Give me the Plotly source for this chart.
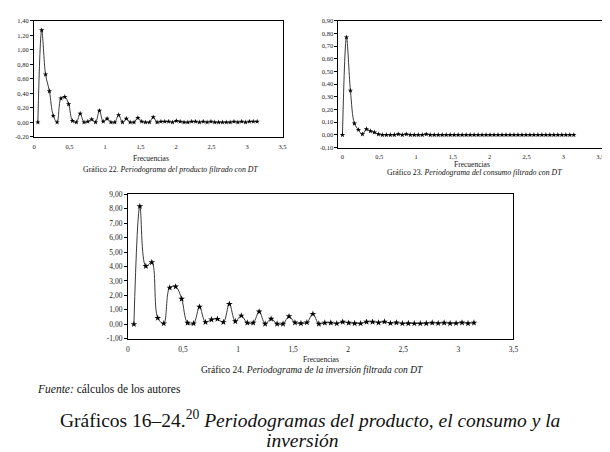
import math
import plotly.graph_objects as go

# ---------------- data ----------------
N = 116
k_prod = list(range(1, 59))
k_cons = list(range(0, 59))
k_inv = list(range(1, 59))

freq_prod = [2 * math.pi * k / N for k in k_prod]
freq_cons = [2 * math.pi * k / N for k in k_cons]
freq_inv = [2 * math.pi * k / N for k in k_inv]

producto = [0.00, 1.27, 0.66, 0.43, 0.09, 0.00, 0.33, 0.35, 0.25, 0.02,
            0.00, 0.12, 0.00, 0.01, 0.04, 0.00, 0.16, 0.01, 0.05, 0.00,
            0.00, 0.10, 0.00, 0.05, 0.00, 0.00, 0.06, 0.01, 0.00, 0.00,
            0.07, 0.00, 0.01, 0.01, 0.01, 0.00, 0.02, 0.01, 0.00, 0.00,
            0.01, 0.01, 0.00, 0.01, 0.00, 0.01, 0.00, 0.00, 0.00, 0.00,
            0.00, 0.01, 0.00, 0.01, 0.00, 0.01, 0.01, 0.01]

consumo = [0.00, 0.77, 0.35, 0.09, 0.04, 0.005, 0.045, 0.03, 0.02, 0.005,
           0.00, 0.00, 0.00, 0.00, 0.005, 0.00, 0.005, 0.00, 0.00, 0.00,
           0.00, 0.005, 0.00, 0.00, 0.00, 0.00, 0.00, 0.00, 0.00, 0.00,
           0.00, 0.00, 0.00, 0.00, 0.00, 0.00, 0.00, 0.00, 0.00, 0.00,
           0.00, 0.00, 0.00, 0.00, 0.00, 0.00, 0.00, 0.00, 0.00, 0.00,
           0.00, 0.00, 0.00, 0.00, 0.00, 0.00, 0.00, 0.00, 0.00]

inversion = [0.00, 8.17, 4.02, 4.29, 0.43, 0.05, 2.53, 2.60, 1.76, 0.09,
             0.05, 1.20, 0.14, 0.32, 0.36, 0.14, 1.40, 0.20, 0.59, 0.10,
             0.10, 0.87, 0.03, 0.37, 0.03, 0.03, 0.54, 0.11, 0.06, 0.12,
             0.71, 0.03, 0.10, 0.10, 0.05, 0.16, 0.09, 0.06, 0.05, 0.16,
             0.16, 0.11, 0.17, 0.07, 0.11, 0.05, 0.06, 0.05, 0.05, 0.06,
             0.10, 0.07, 0.10, 0.06, 0.07, 0.11, 0.06, 0.10]

x_ticks = [0, 0.5, 1, 1.5, 2, 2.5, 3, 3.5]
y1_ticks = [-0.2, 0, 0.2, 0.4, 0.6, 0.8, 1.0, 1.2, 1.4]
y1_text = ["-0,20", "0,00", "0,20", "0,40", "0,60", "0,80", "1,00", "1,20", "1,40"]
y2_ticks = [-0.1, 0, 0.1, 0.2, 0.3, 0.4, 0.5, 0.6, 0.7, 0.8, 0.9]
y2_text = ["-0,10", "0,00", "0,10", "0,20", "0,30", "0,40", "0,50", "0,60", "0,70", "0,80", "0,90"]
y3_ticks = [-1, 0, 1, 2, 3, 4, 5, 6, 7, 8, 9]
y3_text = ["-1,00", "0,00", "1,00", "2,00", "3,00", "4,00", "5,00", "6,00", "7,00", "8,00", "9,00"]

# ---------------- figure ----------------
W, H = 610, 452
FONT = "Liberation Serif"

def px(x):
    return x / W

def py(y):
    return 1 - y / H

fig = go.Figure()

def add_series(x, y, xa, ya, msize):
    fig.add_trace(go.Scatter(
        x=x, y=y, xaxis=xa, yaxis=ya, mode="lines+markers",
        line=dict(color="#3a3a3a", width=1, shape="spline", smoothing=1.0),
        marker=dict(symbol="star", size=msize, color="black",
                    line=dict(width=0)),
        showlegend=False, hoverinfo="skip"))

add_series(freq_prod, producto, "x", "y", 4)
add_series(freq_cons, consumo, "x2", "y2", 4)
add_series(freq_inv, inversion, "x3", "y3", 5)

def xaxis(domain, rng, anchor, size):
    return dict(domain=domain, range=rng, anchor=anchor, tickvals=x_ticks,
                showgrid=False, zeroline=False, showline=True, mirror=True,
                linecolor="black", linewidth=1, ticks="",
                ticklabelstandoff=3,
                tickfont=dict(family=FONT, size=size, color="#222"))

def yaxis(domain, rng, anchor, vals, text, size):
    return dict(domain=domain, range=rng, anchor=anchor, tickvals=vals,
                ticktext=text, showgrid=False, zeroline=False, showline=True,
                mirror=True, linecolor="black", linewidth=1, ticks="outside",
                ticklen=3, tickcolor="black", tickwidth=1,
                tickfont=dict(family=FONT, size=size, color="#222"))

fig.update_layout(
    width=W, height=H, autosize=False,
    margin=dict(l=0, r=0, t=0, b=0),
    paper_bgcolor="white", plot_bgcolor="white",
    separators=",.",
    xaxis=xaxis([px(24.3), px(275.7)], [0, 3.5], "y", 6.5),
    yaxis=yaxis([py(127.3), py(9)], [-0.2, 1.4], "x", y1_ticks, y1_text, 6.5),
    xaxis2=xaxis([px(332.3), px(606)], [-0.054, 3.62], "y2", 6.5),
    yaxis2=yaxis([py(138.3), py(9)], [-0.1, 0.9], "x2", y2_ticks, y2_text, 6.5),
    xaxis3=xaxis([px(119.3), px(509.3)], [0, 3.5], "y3", 7.5),
    yaxis3=yaxis([py(333.3), py(186)], [-1, 9], "x3", y3_ticks, y3_text, 7.5),
)

def note(text, x, y, size, xanchor="center"):
    fig.add_annotation(text=text, x=px(x), y=py(y), xref="paper", yref="paper",
                       xanchor=xanchor, yanchor="middle", showarrow=False,
                       font=dict(family=FONT, size=size, color="#111"))

note("Frecuencias", 143, 149, 7.5)
note("Gráfico 22. <i>Periodograma del producto filtrado con DT</i>", 162, 160.7, 7.8)
note("Frecuencias", 467, 155.7, 7.5)
note("Gráfico 23. <i>Periodograma del consumo filtrado con DT</i>", 470, 163.3, 7.8)
note("Frecuencias", 315, 355, 7.5)
note("Gráfico 24. <i>Periodograma de la inversión filtrada con DT</i>", 305, 365.7, 9.5)
note("<i>Fuente:</i> cálculos de los autores", 25, 385, 11.5, xanchor="left")
note("Gráficos 16–24.<sup>20</sup> <i>Periodogramas del producto, el consumo y la</i>",
     304, 415, 19.5)
note("<i>inversión</i>", 296, 437, 19.5)

fig.write_html("out.html")
